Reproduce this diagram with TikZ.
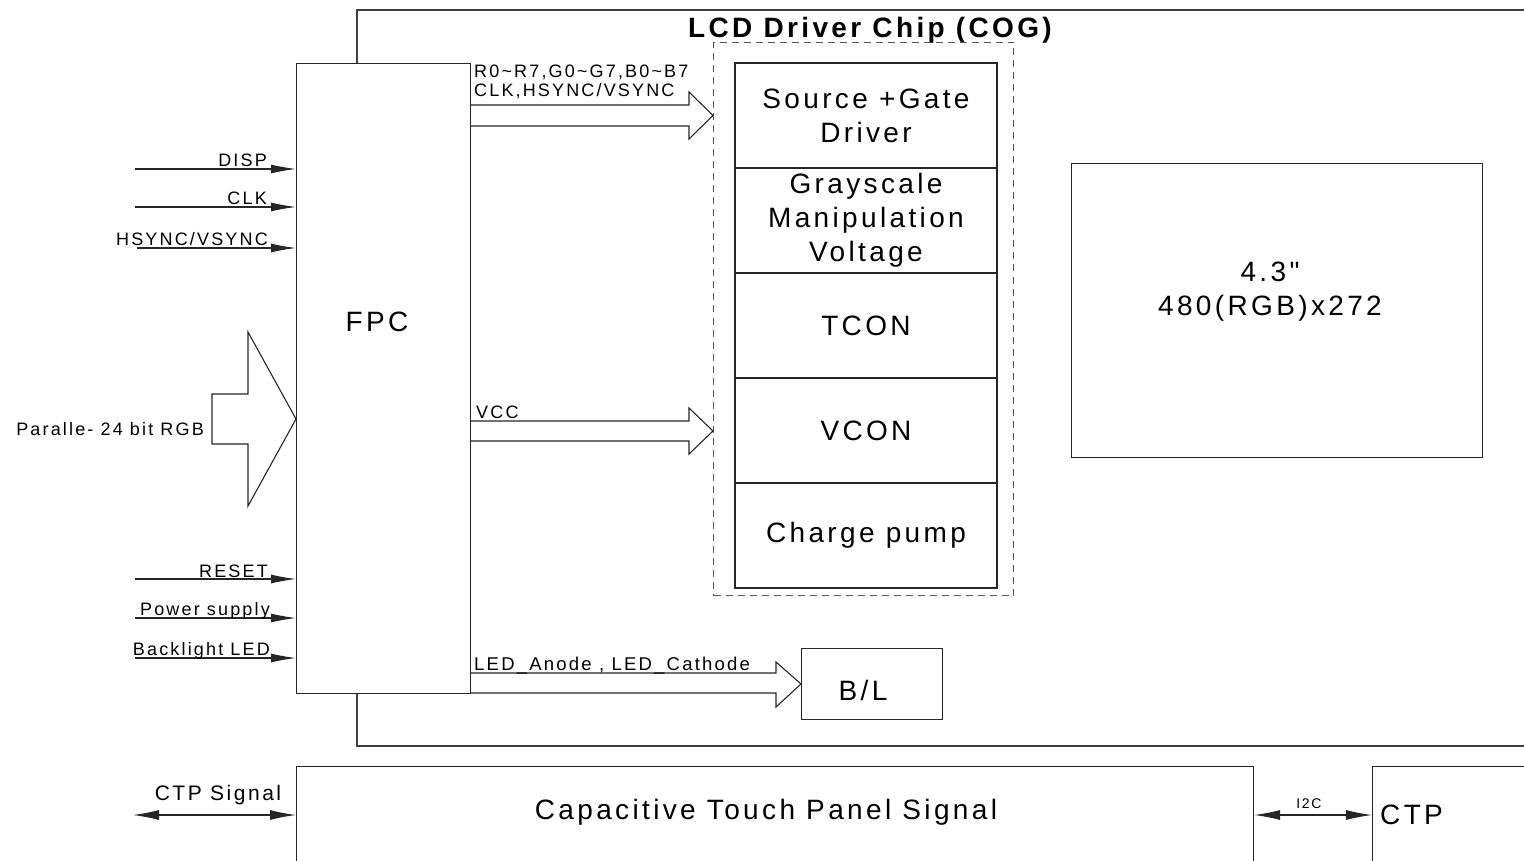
\documentclass[tikz,border=0pt]{standalone}
\usepackage{fontspec}
\setmainfont{Liberation Sans}[LetterSpace=12]
\newfontfamily\plainq{Liberation Sans}[LetterSpace=12]
\usetikzlibrary{arrows.meta,calc}
\begin{document}
\begin{tikzpicture}[x=1pt,y=-1pt,
  ln/.style={draw=black!85, line width=1.1pt},
  box/.style={ln, fill=white, inner sep=0pt},
  small/.style={font=\fontsize{18}{20}\selectfont, inner sep=0pt},
  big/.style={font=\fontsize{28}{34}\selectfont, align=center, inner sep=0pt},
  inarrow/.style={ln, -{Latex[length=25pt,width=9pt]}},
  dblarrow/.style={ln, {Latex[length=26pt,width=10pt]}-{Latex[length=26pt,width=10pt]}},
  hollow/.style={ln, line join=miter}
]
\useasboundingbox (0,0) rectangle (1524,861);
% chip outline
\draw[ln, draw=black!75] (1530,10) -- (357,10) -- (357,746) -- (1530,746);
\node[font=\bfseries\fontsize{28}{30}\selectfont, anchor=base, inner sep=0pt] (title) at (870,38) {LCD Driver Chip (COG)};
% FPC
\node[box, anchor=north west, minimum width=174pt, minimum height=630pt] (fpc) at (296,63) {};
\node[big] (fpctext) at (377,322) {FPC};
% dashed block
\node[draw=black!65, line width=1pt, dash pattern=on 7pt off 5pt, anchor=north west, minimum width=300pt, minimum height=553pt, inner sep=0pt] (dbox) at (713,42) {};
\node[box, big, minimum width=262pt, minimum height=105pt] (s1) at (866,115.5) {Source +Gate\\Driver};
\node[box, big, minimum width=262pt, minimum height=105pt] (s2) at (866,220.5) {Grayscale\\Manipulation\\Voltage};
\node[box, big, minimum width=262pt, minimum height=105pt] (s3) at (866,325.5) {TCON};
\node[box, big, minimum width=262pt, minimum height=105pt] (s4) at (866,430.5) {VCON};
\node[box, big, minimum width=262pt, minimum height=105pt] (s5) at (866,535.5) {Charge pump};
% LCD panel
\node[box, anchor=north west, minimum width=411pt, minimum height=294pt] (lcd) at (1071,163) {};
\node[big] (lcdtext) at (1270,292) {{\plainq 4.3"}\\480(RGB)x272};
% B/L
\node[box, anchor=north west, minimum width=141pt, minimum height=71pt] (bl) at (801,648) {};
\node[big] (bltext) at (863,690) {B/L};
% inputs
\coordinate (dispS) at (135,169);
\coordinate (clkS) at (135,207);
\coordinate (hsS) at (137,248);
\coordinate (rstS) at (135,579);
\coordinate (pwrS) at (135,618);
\coordinate (bklS) at (135,658);
\draw[inarrow] (dispS) -- (dispS -| fpc.west);
\draw[inarrow] (clkS) -- (clkS -| fpc.west);
\draw[inarrow] (hsS) -- (hsS -| fpc.west);
\draw[inarrow] (rstS) -- (rstS -| fpc.west);
\draw[inarrow] (pwrS) -- (pwrS -| fpc.west);
\draw[inarrow] (bklS) -- (bklS -| fpc.west);
\node[small, anchor=base east] (ldisp) at (267,167) {DISP};
\node[small, anchor=base east] (lclk) at (267,205) {CLK};
\node[small, anchor=base east] (lhs) at (268,246) {HSYNC/VSYNC};
\node[small, anchor=base east] (lrst) at (268,577) {RESET};
\node[small, anchor=base east] (lpwr) at (270,615) {Power supply};
\node[small, anchor=base east] (lbkl) at (270,655) {Backlight LED};
% big parallel arrow
\draw[hollow] (212,394) -- (248,394) -- (248,332) -- (fpc.west |- 0,419) -- (248,506) -- (248,444) -- (212,444) -- cycle;
\node[small, anchor=east] (lpar) at (204,429) {Paralle- 24 bit RGB};
% hollow output arrows
\draw[hollow] (fpc.east |- 0,105) -- (689,105) -- (689,92) -- (dbox.west |- 0,115.5) -- (689,139) -- (689,126) -- (fpc.east |- 0,126);
\node[small, anchor=base west] (lrgb) at (474,78) {R0\textasciitilde R7,G0\textasciitilde G7,B0\textasciitilde B7};
\node[small, anchor=base west] (lclk2) at (474,97) {CLK,HSYNC/VSYNC};
\draw[hollow] (fpc.east |- 0,421) -- (689,421) -- (689,408) -- (dbox.west |- 0,431) -- (689,454) -- (689,441) -- (fpc.east |- 0,441);
\node[small, anchor=base west] (lvcc) at (476,418) {VCC};
\draw[hollow] (fpc.east |- 0,673) -- (776,673) -- (776,662) -- (bl.west |- 0,684) -- (776,707) -- (776,693) -- (fpc.east |- 0,693);
\node[small, font=\fontsize{18.5}{20}\selectfont, anchor=base west] (lled) at (474,670) {LED\_Anode , LED\_Cathode};
% touch panel
\node[box, anchor=north west, minimum width=957pt, minimum height=110pt] (cap) at (296,766) {};
\node[big] (captext) at (766,812) {Capacitive Touch Panel Signal};
\node[box, anchor=north west, minimum width=170pt, minimum height=110pt] (ctp) at (1372,766) {};
\node[big, anchor=west] (ctptext) at (1380,815) {CTP};
\coordinate (ctpsS) at (133,815);
\draw[dblarrow] (ctpsS) -- (ctpsS -| cap.west);
\node[small, font=\fontsize{21}{22}\selectfont, anchor=base] (lctps) at (218,800) {CTP Signal};
\draw[dblarrow] ($(cap.north east)+(0,49)$) -- ($(ctp.north west)+(0,49)$);
\node[small, font=\fontsize{14}{15}\selectfont, anchor=base] (li2c) at (1309,808) {I2C};
\end{tikzpicture}
\end{document}
